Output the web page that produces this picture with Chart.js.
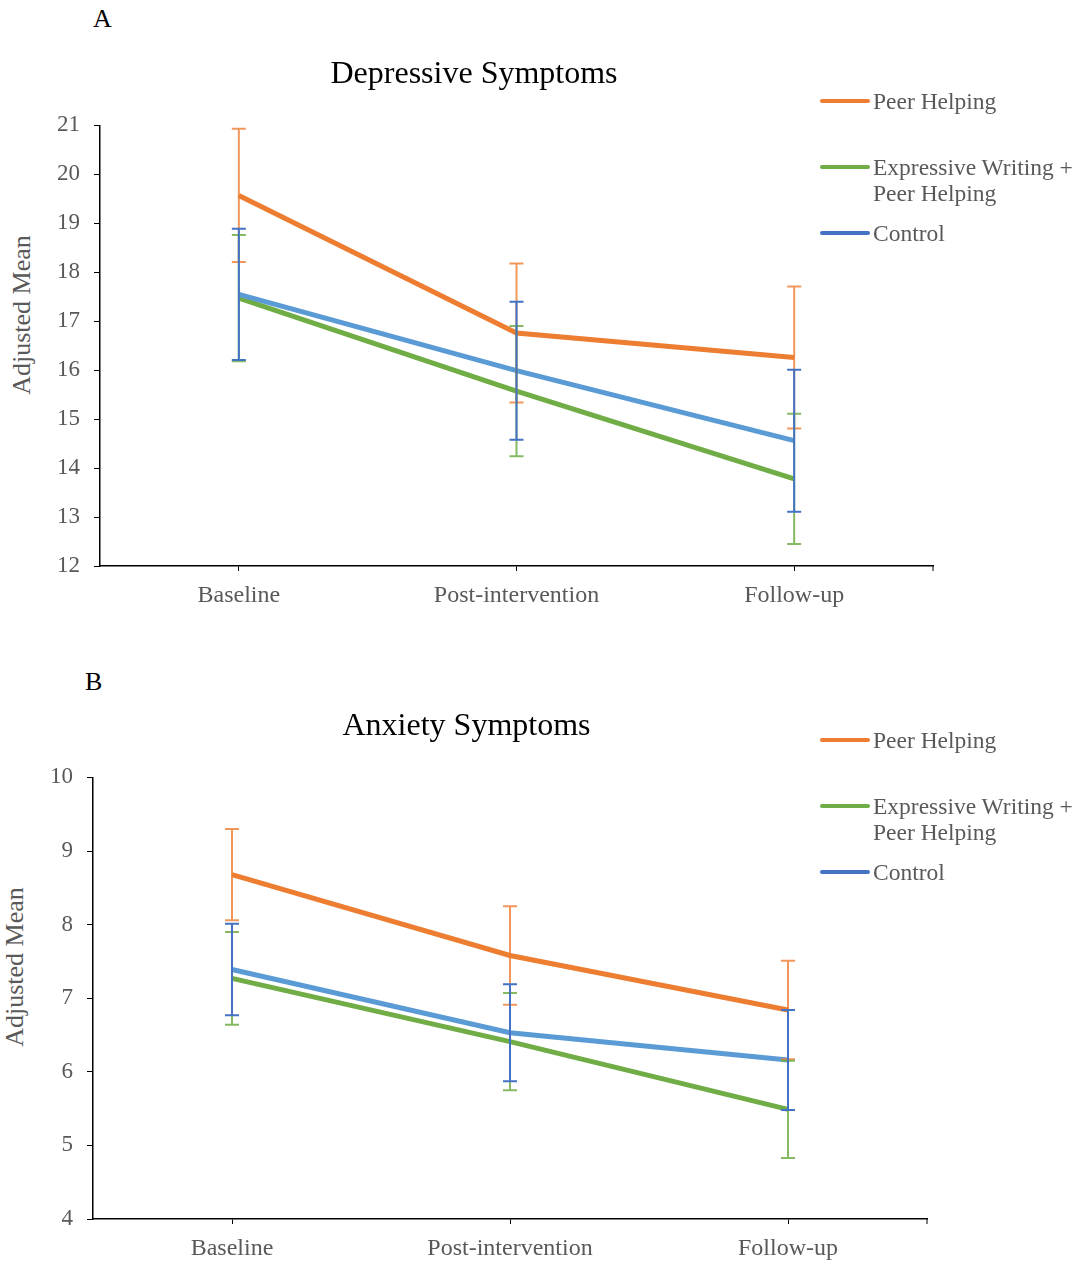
<!DOCTYPE html>
<html>
<head>
<meta charset="utf-8">
<script src="https://cdn.jsdelivr.net/npm/chart.js@4.4.1/dist/chart.umd.min.js"></script>
<style>
  body { margin: 0; background: #fff; }
  #wrap { position: relative; width: 1090px; height: 1262px; font-family: 'Liberation Serif', 'Times New Roman', serif; }
  .panel { position: absolute; left: 0; }
  .panel canvas { display: block; }
  .letter { position: absolute; font-size: 26px; color: #000; line-height: 1; }
  .ytitle { position: absolute; font-size: 26px; color: #595959; white-space: nowrap; transform: translate(-50%, -50%) rotate(-90deg); line-height: 1; }
  .leg { position: absolute; left: 820px; font-size: 23.5px; line-height: 26px; color: #595959; }
  .leg .sw { position: absolute; left: 0; width: 50px; height: 4px; border-radius: 2px; top: 11px; }
  .leg .tx { margin-left: 53px; white-space: nowrap; }
</style>
</head>
<body>
<div id="wrap">
  <div class="letter" style="left:93px;top:6px">A</div>
  <div class="letter" style="left:85px;top:669px">B</div>
  <div class="ytitle" style="left:22px;top:315px">Adjusted Mean</div>
  <div class="ytitle" style="left:15px;top:967px">Adjusted Mean</div>
  <div class="panel" style="top:0"><canvas id="chartA" width="948" height="630"></canvas></div>
  <div class="panel" style="top:640px"><canvas id="chartB" width="934" height="622"></canvas></div>
  <div id="legendA"></div>
  <div id="legendB"></div>
</div>
<script>
Chart.defaults.font.family = "'Liberation Serif', 'Times New Roman', serif";

const categories = ['Baseline', 'Post-intervention', 'Follow-up'];
const seriesNames = ['Peer Helping', 'Expressive Writing +\nPeer Helping', 'Control'];
const lineColors = ['#ED7D31', '#70AD47', '#5B9BD5'];
const barColors = ['rgba(237,125,49,0.8)', 'rgba(112,173,71,0.85)', '#4472C4'];
const legendColors = ['#ED7D31', '#70AD47', '#4472C4'];

// Depressive symptoms (panel A)
const depPeer = [19.57, 16.76, 16.26];
const depPeerErr = [1.36, 1.42, 1.45];
const depEW = [17.47, 15.57, 13.78];
const depEWErr = [1.29, 1.33, 1.33];
const depCtrl = [17.55, 15.99, 14.56];
const depCtrlErr = [1.34, 1.41, 1.45];

// Anxiety symptoms (panel B)
const anxPeer = [8.68, 7.58, 6.84];
const anxPeerErr = [0.62, 0.67, 0.67];
const anxEW = [7.27, 6.41, 5.49];
const anxEWErr = [0.63, 0.66, 0.66];
const anxCtrl = [7.39, 6.53, 6.16];
const anxCtrlErr = [0.62, 0.66, 0.68];

const errorBars = {
    id: 'errorBars',
    afterDatasetsDraw(chart, args, opts) {
        const ctx = chart.ctx;
        const y = chart.scales.y;
        chart.data.datasets.forEach((ds, i) => {
            const meta = chart.getDatasetMeta(i);
            const errs = opts.errors[i];
            ctx.save();
            ctx.strokeStyle = barColors[i];
            ctx.lineWidth = 2;
            meta.data.forEach((pt, j) => {
                const top = y.getPixelForValue(ds.data[j] + errs[j]);
                const bot = y.getPixelForValue(ds.data[j] - errs[j]);
                ctx.beginPath();
                ctx.moveTo(pt.x, top); ctx.lineTo(pt.x, bot);
                ctx.moveTo(pt.x - 7, top); ctx.lineTo(pt.x + 7, top);
                ctx.moveTo(pt.x - 7, bot); ctx.lineTo(pt.x + 7, bot);
                ctx.stroke();
            });
            ctx.restore();
        });
        // small end tick on the right of the x axis
        const area = chart.chartArea;
        ctx.save();
        ctx.strokeStyle = '#000';
        ctx.lineWidth = 1;
        ctx.beginPath();
        ctx.moveTo(area.right, area.bottom);
        ctx.lineTo(area.right, area.bottom + 5);
        ctx.stroke();
        ctx.restore();
    }
};

function makeChart(id, title, values, errs, yMin, yMax, yWidth, xHeight, pad) {
    return new Chart(document.getElementById(id), {
        type: 'line',
        data: {
            labels: categories,
            datasets: values.map((v, i) => ({
                label: seriesNames[i],
                data: v,
                borderColor: lineColors[i],
                backgroundColor: lineColors[i],
                borderWidth: 5,
                pointRadius: 0,
                tension: 0,
                order: 3 - i
            }))
        },
        options: {
            responsive: false,
            animation: false,
            layout: { padding: { left: pad.left, right: pad.right, top: 0, bottom: 0 } },
            plugins: {
                legend: { display: false },
                tooltip: { enabled: false },
                title: {
                    display: true,
                    text: title,
                    color: '#000',
                    font: { size: 32, weight: 'normal' },
                    padding: { top: pad.titleTop, bottom: pad.titleBottom }
                },
                errorBars: { errors: errs }
            },
            scales: {
                x: {
                    offset: true,
                    grid: { offset: false, drawOnChartArea: false, color: '#000', tickLength: 5 },
                    border: { color: '#000', width: 1.5 },
                    ticks: { color: '#595959', font: { size: 24 }, padding: 10 },
                    afterFit(scale) { scale.height = xHeight; }
                },
                y: {
                    min: yMin,
                    max: yMax,
                    grid: { drawOnChartArea: false, color: '#000', tickLength: 6 },
                    border: { color: '#000', width: 1.5 },
                    ticks: { stepSize: 1, color: '#595959', font: { size: 23 }, padding: 14 },
                    afterFit(scale) { scale.width = yWidth; }
                }
            }
        },
        plugins: [errorBars]
    });
}

makeChart('chartA', 'Depressive Symptoms',
    [depPeer, depEW, depCtrl], [depPeerErr, depEWErr, depCtrlErr],
    12, 21, 85, 64, { left: 15, right: 15, titleTop: 55, titleBottom: 32 });

makeChart('chartB', 'Anxiety Symptoms',
    [anxPeer, anxEW, anxCtrl], [anxPeerErr, anxEWErr, anxCtrlErr],
    4, 10, 87, 43, { left: 6, right: 7, titleTop: 67, titleBottom: 32 });

function buildLegend(id, tops) {
    const box = document.getElementById(id);
    seriesNames.forEach((name, i) => {
        const item = document.createElement('div');
        item.className = 'leg';
        item.style.top = tops[i] + 'px';
        const sw = document.createElement('div');
        sw.className = 'sw';
        sw.style.background = legendColors[i];
        const tx = document.createElement('div');
        tx.className = 'tx';
        tx.innerHTML = name.split('\n').join('<br>');
        item.appendChild(sw);
        item.appendChild(tx);
        box.appendChild(item);
    });
}
buildLegend('legendA', [88, 154, 220]);
buildLegend('legendB', [727, 793, 859]);
</script>
</body>
</html>
